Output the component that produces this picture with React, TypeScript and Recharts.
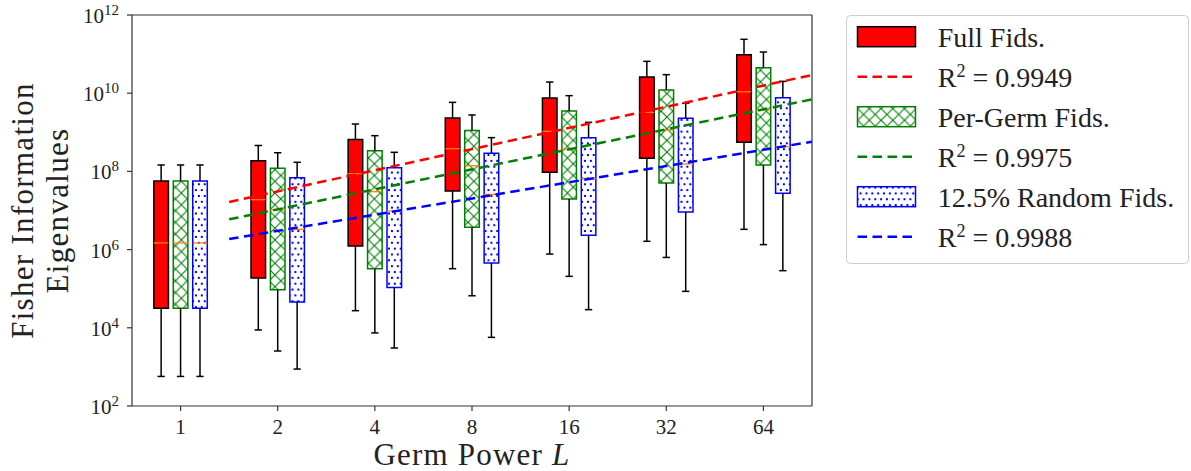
import React from 'react';
import { ComposedChart, XAxis, YAxis, Line, ReferenceArea, ReferenceLine } from 'recharts';

// ---------- data ----------
const germPowers = ['1', '2', '4', '8', '16', '32', '64'];
const yTicks = [1e2, 1e4, 1e6, 1e8, 1e10, 1e12];

// each entry: [whiskerLow, q1, median, q3, whiskerHigh]
const fullFids = [
  [5.7e2, 3.15e4, 1.48e6, 5.68e7, 1.46e8],
  [8.8e3, 1.88e5, 1.89e7, 1.88e8, 4.6e8],
  [2.74e4, 1.24e6, 8.75e7, 6.5e8, 1.63e9],
  [3.25e5, 3.16e7, 3.81e8, 2.32e9, 5.83e9],
  [7.7e5, 9.46e7, 1.06e9, 7.5e9, 1.93e10],
  [1.63e6, 2.16e8, 3.24e9, 2.59e10, 6.53e10],
  [3.3e6, 5.53e8, 1.09e10, 9.68e10, 2.39e11],
];
const perGermFids = [
  [5.7e2, 3.15e4, 1.48e6, 5.68e7, 1.46e8],
  [2.55e3, 9.4e4, 1.05e7, 1.2e8, 3.0e8],
  [7.4e3, 3.25e5, 3.03e7, 3.39e8, 8.2e8],
  [6.6e4, 3.71e6, 1.4e8, 1.12e9, 2.77e9],
  [2.07e5, 1.97e7, 3.74e8, 3.5e9, 8.65e9],
  [6.3e5, 5.05e7, 1.15e9, 1.21e10, 2.98e10],
  [1.34e6, 1.46e8, 3.72e9, 4.5e10, 1.13e11],
];
const randomFids = [
  [5.7e2, 3.15e4, 1.48e6, 5.68e7, 1.46e8],
  [8.8e2, 4.57e4, 3.3e6, 6.9e7, 1.71e8],
  [3.04e3, 1.08e5, 9.7e6, 1.24e8, 3.08e8],
  [5.7e3, 4.54e5, 2.59e7, 2.9e8, 7.3e8],
  [2.91e4, 2.32e6, 6.65e7, 7.3e8, 1.8e9],
  [8.55e4, 9.2e6, 1.55e8, 2.28e9, 5.5e9],
  [2.89e5, 2.75e7, 4.3e8, 7.7e9, 2.01e10],
];

// regression fit lines (endpoints)
const fitX = [0.5, 6.5];
const fullFit = [1.65e7, 2.92e10];
const perGermFit = [5.94e6, 6.97e9];
const randomFit = [1.87e6, 5.75e8];
const r2Labels = ['R', 'R', 'R'];
const r2Values = ['0.9949', '0.9975', '0.9988'];
const seriesNames = ['Full Fids.', 'Per-Germ Fids.', '12.5% Random Fids.'];

const fitData = fitX.map((x, i) => ({ x, full: fullFit[i], perGerm: perGermFit[i], random: randomFit[i] }));

// ---------- styles ----------
const FONT = '"Liberation Serif", "DejaVu Serif", serif';
const TEXT = '#222';
const AXIS = '#333';
const BOX_W = 0.15;
const CAP_W = 0.075;

const series = [
  { stats: fullFids, fill: '#ff0000', edge: '#000000', offset: -0.2 },
  { stats: perGermFids, fill: 'url(#hatchX)', edge: '#008000', offset: 0 },
  { stats: randomFids, fill: 'url(#dotsB)', edge: '#0000ff', offset: 0.2 },
];

const Patterns = ({ suffix = '' }: { suffix?: string }) => (
  <defs>
    <pattern id={`hatchX${suffix}`} patternUnits="userSpaceOnUse" width="11.7" height="11.7">
      <rect x="0" y="0" width="11.7" height="11.7" fill="#ffffff" />
      <path d="M0,0 L11.7,11.7 M0,11.7 L11.7,0" stroke="#008000" strokeWidth="1.1" />
    </pattern>
    <pattern id={`dotsB${suffix}`} patternUnits="userSpaceOnUse" width="11.7" height="11.7">
      <rect x="0" y="0" width="11.7" height="11.7" fill="#ffffff" />
      <rect x="1.9" y="1.9" width="2" height="2" fill="#0000ff" />
      <rect x="7.75" y="1.9" width="2" height="2" fill="#0000ff" />
      <rect x="-1" y="7.75" width="2" height="2" fill="#0000ff" />
      <rect x="4.85" y="7.75" width="2" height="2" fill="#0000ff" />
      <rect x="10.7" y="7.75" width="2" height="2" fill="#0000ff" />
    </pattern>
  </defs>
);

const YTick = (props: any) => {
  const { x, y, payload } = props;
  const exp = Math.round(Math.log10(payload.value));
  return (
    <text x={x} y={y + 8} textAnchor="end" fontFamily={FONT} fontSize={21} fill={TEXT}>
      <tspan>10</tspan>
      <tspan dy={-8} fontSize={15}>{exp}</tspan>
    </text>
  );
};

const YLabel = (props: any) => {
  const vb = props.viewBox || { x: 0, y: 15, width: 132, height: 391 };
  const cy = vb.y + vb.height / 2;
  return (
    <g fontFamily={FONT} fontSize={31} fill={TEXT}>
      <text x={33} y={cy} textAnchor="middle" letterSpacing={1.3} transform={`rotate(-90, 33, ${cy})`}>
        Fisher Information
      </text>
      <text x={68} y={cy} textAnchor="middle" letterSpacing={1.3} transform={`rotate(-90, 68, ${cy})`}>
        Eigenvalues
      </text>
    </g>
  );
};

const XLabel = (props: any) => {
  const vb = props.viewBox || { x: 132, y: 406, width: 680, height: 65 };
  const cx = vb.x + vb.width / 2;
  return (
    <text x={cx} y={vb.y + 59} textAnchor="middle" fontFamily={FONT} fontSize={31} fill={TEXT} letterSpacing={1.2}>
      Germ Power <tspan fontStyle="italic">L</tspan>
    </text>
  );
};

const Legend = () => {
  const rows = [21.7, 61.7, 101.7, 141.7, 181.7, 221.7];
  const fills = ['#ff0000', 'url(#hatchXL)', 'url(#dotsBL)'];
  const edges = ['#000000', '#008000', '#0000ff'];
  const lineColors = ['#ff0000', '#008000', '#0000ff'];
  return (
    <svg
      width={345}
      height={251}
      style={{ position: 'absolute', left: 846, top: 15 }}
      fontFamily={FONT}
    >
      <Patterns suffix="L" />
      <rect x={0.5} y={0.5} width={342} height={248} rx={4} fill="#ffffff" stroke="#cccccc" strokeWidth={1} />
      {seriesNames.map((name, i) => {
        const cy1 = rows[i * 2];
        const cy2 = rows[i * 2 + 1];
        return (
          <g key={name}>
            <rect x={11.5} y={cy1 - 10} width={58} height={20} fill={fills[i]} stroke={edges[i]} strokeWidth={1.5} />
            <text x={91.7} y={cy1 + 10} fontSize={28} fill={TEXT}>{name}</text>
            <line x1={11.5} y1={cy2} x2={69.5} y2={cy2} stroke={lineColors[i]} strokeWidth={2.5} strokeDasharray="9.5 5.5" />
            <text x={91.7} y={cy2 + 10} fontSize={28} fill={TEXT}>
              <tspan>{r2Labels[i]}</tspan>
              <tspan dy={-10} fontSize={18}>2</tspan>
              <tspan dy={10}>{` = ${r2Values[i]}`}</tspan>
            </text>
          </g>
        );
      })}
    </svg>
  );
};

export default function App() {
  const boxElements: React.ReactNode[] = [];
  series.forEach((s, si) => {
    s.stats.forEach((st, i) => {
      const c = i + s.offset;
      const [lo, q1, med, q3, hi] = st;
      boxElements.push(
        <ReferenceLine key={`wl-${si}-${i}`} segment={[{ x: c, y: lo }, { x: c, y: q1 }]} stroke="#000" strokeWidth={1.5} ifOverflow="visible" />,
        <ReferenceLine key={`wh-${si}-${i}`} segment={[{ x: c, y: q3 }, { x: c, y: hi }]} stroke="#000" strokeWidth={1.5} ifOverflow="visible" />,
        <ReferenceLine key={`cl-${si}-${i}`} segment={[{ x: c - CAP_W / 2, y: lo }, { x: c + CAP_W / 2, y: lo }]} stroke="#000" strokeWidth={1.5} ifOverflow="visible" />,
        <ReferenceLine key={`ch-${si}-${i}`} segment={[{ x: c - CAP_W / 2, y: hi }, { x: c + CAP_W / 2, y: hi }]} stroke="#000" strokeWidth={1.5} ifOverflow="visible" />,
        <ReferenceArea
          key={`b-${si}-${i}`}
          x1={c - BOX_W / 2}
          x2={c + BOX_W / 2}
          y1={q1}
          y2={q3}
          fill={s.fill}
          fillOpacity={1}
          stroke={s.edge}
          strokeWidth={1.5}
          ifOverflow="visible"
        />,
        <ReferenceLine key={`m-${si}-${i}`} segment={[{ x: c - BOX_W / 2, y: med }, { x: c + BOX_W / 2, y: med }]} stroke="#ff7f0e" strokeWidth={1.3} ifOverflow="visible" />
      );
    });
  });

  return (
    <div style={{ position: 'absolute', left: 0, top: 0, width: 1191, height: 471, background: '#fff' }}>
      <ComposedChart width={1191} height={471} data={fitData} margin={{ top: 15, right: 379, bottom: 0, left: 0 }}>
        <Patterns />
        <XAxis
          dataKey="x"
          type="number"
          domain={[-0.5, 6.5]}
          ticks={[0, 1, 2, 3, 4, 5, 6]}
          interval={0}
          allowDataOverflow
          tickFormatter={(v: number) => germPowers[v]}
          height={65}
          tickSize={5}
          tickMargin={8}
          axisLine={{ stroke: AXIS, strokeWidth: 1.2 }}
          tickLine={{ stroke: AXIS, strokeWidth: 1.2 }}
          tick={{ fontFamily: FONT, fontSize: 21, fill: TEXT }}
          label={{ content: XLabel }}
        />
        <YAxis
          scale="log"
          domain={[1e2, 1e12]}
          ticks={yTicks}
          interval={0}
          allowDataOverflow
          width={132}
          tickSize={5}
          tickMargin={8}
          axisLine={{ stroke: AXIS, strokeWidth: 1.2 }}
          tickLine={{ stroke: AXIS, strokeWidth: 1.2 }}
          tick={<YTick />}
          label={{ content: YLabel }}
        />
        <ReferenceLine y={1e12} stroke={AXIS} strokeWidth={1.2} ifOverflow="visible" />
        <ReferenceLine x={6.5} stroke={AXIS} strokeWidth={1.2} ifOverflow="visible" />
        {boxElements}
        <Line dataKey="full" type="linear" stroke="#ff0000" strokeWidth={2.5} strokeDasharray="9.5 5.5" dot={false} activeDot={false} isAnimationActive={false} />
        <Line dataKey="perGerm" type="linear" stroke="#008000" strokeWidth={2.5} strokeDasharray="9.5 5.5" dot={false} activeDot={false} isAnimationActive={false} />
        <Line dataKey="random" type="linear" stroke="#0000ff" strokeWidth={2.5} strokeDasharray="9.5 5.5" dot={false} activeDot={false} isAnimationActive={false} />
      </ComposedChart>
      <Legend />
    </div>
  );
}
